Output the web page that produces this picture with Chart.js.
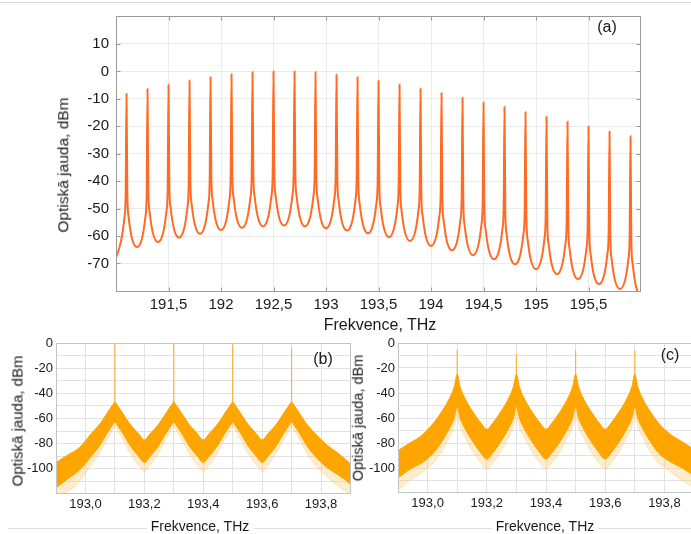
<!DOCTYPE html>
<html>
<head>
<meta charset="utf-8">
<title>Optiskā jauda</title>
<script src="https://cdn.jsdelivr.net/npm/chart.js@4.4.1/dist/chart.umd.min.js"></script>
<style>
    html, body { margin: 0; padding: 0; background: #fff; }
    body { position: relative; width: 691px; height: 534px; overflow: hidden;
           font-family: "Liberation Sans", Arial, sans-serif; color: #1a1a1a; }
    canvas, .txt, .rule { position: absolute; }
    .txt { white-space: nowrap; transform: translate(-50%, -50%); line-height: 1; font-weight: normal; }
    .rot { transform: translate(-50%, -50%) rotate(-90deg); }
    .rule { height: 0; border-top: 1px solid #dcdcdc; }
    .bg { background: #fff; padding: 0 4px; }
</style>
</head>
<body>
<div class="rule" style="left:0; top:2px; width:691px;"></div>
<div class="rule" style="left:8px; top:528px; width:683px;"></div>

<canvas id="chartA" width="691" height="340" style="left:0; top:0;"></canvas>
<canvas id="chartB" width="360" height="204" style="left:0; top:330px;"></canvas>
<canvas id="chartC" width="360" height="204" style="left:340px; top:330px;"></canvas>

<div class="txt rot" style="left:63px; top:165px; font-size:15.5px;">Optiskā jauda, dBm</div>
<div class="txt" style="left:380px; top:325px; font-size:16px;">Frekvence, THz</div>
<div class="txt" style="left:607px; top:27px; font-size:16px;">(a)</div>

<div class="txt rot" style="left:17px; top:421px; font-size:15px;">Optiskā jauda, dBm</div>
<div class="txt bg" style="left:200px; top:526px; font-size:14px;">Frekvence, THz</div>
<div class="txt" style="left:323px; top:359px; font-size:16px;">(b)</div>

<div class="txt rot" style="left:358px; top:418px; font-size:14.5px;">Optiskā jauda, dBm</div>
<div class="txt bg" style="left:545px; top:526px; font-size:14px;">Frekvence, THz</div>
<div class="txt" style="left:670px; top:355px; font-size:16px;">(c)</div>

<script>
var FONT = '"Liberation Sans", Arial, sans-serif';

// (a) comb spectrum, 191-196 THz
var peakFreqA = [191.1, 191.3, 191.5, 191.7, 191.9, 192.1, 192.3, 192.5, 192.7, 192.9, 193.1, 193.3, 193.5,
                 193.7, 193.9, 194.1, 194.3, 194.5, 194.7, 194.9, 195.1, 195.3, 195.5, 195.7, 195.9];
var peakDbA = [-8.2, -6.4, -4.9, -3.3, -2.1, -1.0, -0.3, 0, 0, -0.3, -1.2, -2.1, -3.4,
               -4.8, -6.3, -7.9, -9.6, -11.3, -13.0, -14.9, -16.5, -18.3, -20.1, -21.9, -23.6];
var troughFreqA = [191.0, 191.2, 191.4, 191.6, 191.8, 192.0, 192.2, 192.4, 192.6, 192.8, 193.0, 193.2, 193.4,
                   193.6, 193.8, 194.0, 194.2, 194.4, 194.6, 194.8, 195.0, 195.2, 195.4, 195.6, 195.8, 196.0];
var troughDbA = [-68, -64, -62.2, -60.6, -59.2, -57.8, -57, -56.5, -56.2, -56.5, -57.2, -58, -59,
                 -60.4, -61.8, -63.6, -65.2, -67, -68.5, -70.3, -72.1, -73.9, -75.7, -77.5, -79.3, -83];
// skirt of every peak, read at these offsets (THz) from the peak
var skirtOffsetA = [-0.05, -0.02, -0.008, 0.008, 0.02, 0.05];
var skirtDbA = [
    [-61.5, -53.5, -45, -45, -53, -60.5],
    [-60.5, -53, -45, -43.2, -51.2, -58.7],
    [-58.7, -51.2, -43.2, -41.6, -49.6, -57.1],
    [-57.1, -49.6, -41.6, -40.2, -48.2, -55.7],
    [-55.7, -48.2, -40.2, -38.8, -46.8, -54.3],
    [-54.3, -46.8, -38.8, -38, -46, -53.5],
    [-53.5, -46, -38, -37.5, -45.5, -53],
    [-53, -45.5, -37.5, -37.2, -45.2, -52.7],
    [-52.7, -45.2, -37.2, -37.5, -45.5, -53],
    [-53, -45.5, -37.5, -38.2, -46.2, -53.7],
    [-53.7, -46.2, -38.2, -39, -47, -54.5],
    [-54.5, -47, -39, -40, -48, -55.5],
    [-55.5, -48, -40, -41.4, -49.4, -56.9],
    [-56.9, -49.4, -41.4, -42.8, -50.8, -58.3],
    [-58.3, -50.8, -42.8, -44.6, -52.6, -60.1],
    [-60.1, -52.6, -44.6, -46.2, -54.2, -61.7],
    [-61.7, -54.2, -46.2, -48, -56, -63.5],
    [-63.5, -56, -48, -49.5, -57.5, -65],
    [-65, -57.5, -49.5, -51.3, -59.3, -66.8],
    [-66.8, -59.3, -51.3, -53.1, -61.1, -68.6],
    [-68.6, -61.1, -53.1, -54.9, -62.9, -70.4],
    [-70.4, -62.9, -54.9, -56.7, -64.7, -72.2],
    [-72.2, -64.7, -56.7, -58.5, -66.5, -74],
    [-74, -66.5, -58.5, -60.3, -68.3, -75.8],
    [-75.8, -68.3, -60.3, -62, -70, -78]
];
var xTicksA = [191.5, 192, 192.5, 193, 193.5, 194, 194.5, 195, 195.5];
var xTickLabelsA = ['191,5', '192', '192,5', '193', '193,5', '194', '194,5', '195', '195,5'];
var yTicksA = [-70, -60, -50, -40, -30, -20, -10, 0, 10];
var yTickLabelsA = ['-70', '-60', '-50', '-40', '-30', '-20', '-10', '0', '10'];

// (b) and (c) measured spectra, 192.9-193.9 THz (noise band: upper / lower edge)
var freqBC = [192.90, 192.94, 192.98, 193.02, 193.05, 193.07, 193.09, 193.10, 193.11, 193.13, 193.15, 193.18,
              193.20, 193.22, 193.25, 193.27, 193.29, 193.30, 193.31, 193.33, 193.35, 193.38, 193.40, 193.42,
              193.45, 193.47, 193.49, 193.50, 193.51, 193.53, 193.55, 193.58, 193.60, 193.62, 193.65, 193.67,
              193.69, 193.70, 193.71, 193.73, 193.75, 193.78, 193.82, 193.86, 193.90];
var upperB = [-95, -89, -83, -72, -64, -57, -50, -47, -50, -57, -64, -72,
              -77, -72, -64, -57, -50, -47, -50, -57, -64, -72, -77, -72,
              -64, -57, -50, -47, -50, -57, -64, -72, -77, -72, -64, -57,
              -50, -47, -50, -57, -64, -72, -81, -88, -96];
var lowerB = [-115, -108, -101, -90, -81, -73, -66, -63, -66, -73, -81, -90,
              -95, -90, -81, -73, -66, -63, -66, -73, -81, -90, -95, -90,
              -81, -73, -66, -63, -66, -73, -81, -90, -95, -90, -81, -73,
              -66, -63, -66, -73, -81, -90, -99, -105, -112];
var fringeB = [-120, -118, -110, -97, -87, -78, -70, -67, -70, -78, -87, -97,
               -102, -97, -87, -78, -70, -67, -70, -78, -87, -97, -102, -97,
               -87, -78, -70, -67, -70, -78, -87, -97, -102, -97, -87, -78,
               -70, -67, -70, -78, -87, -97, -106, -114, -120];
var upperC = [-86, -80, -74, -64, -54, -46, -35, -25, -35, -46, -54, -64,
              -69, -64, -54, -46, -35, -25, -35, -46, -54, -64, -69, -64,
              -54, -46, -35, -25, -35, -46, -54, -64, -69, -64, -54, -46,
              -35, -25, -35, -46, -54, -64, -73, -79, -85];
var lowerC = [-108, -101, -96, -88, -78, -70, -60, -51, -60, -70, -78, -88,
              -93, -88, -78, -70, -60, -51, -60, -70, -78, -88, -93, -88,
              -78, -70, -60, -51, -60, -70, -78, -88, -93, -88, -78, -70,
              -60, -51, -60, -70, -78, -88, -95, -100, -106];
var fringeC = [-118, -110, -104, -96, -86, -77, -67, -58, -67, -77, -86, -96,
               -101, -96, -86, -77, -67, -58, -67, -77, -86, -96, -101, -96,
               -86, -77, -67, -58, -67, -77, -86, -96, -101, -96, -86, -77,
               -67, -58, -67, -77, -86, -96, -103, -110, -116];
var spikeFreqBC = [193.1, 193.3, 193.5, 193.7];
var spikeBaseB = [-48, -48, -48, -48];
var spikeTopB = [0, -1, -1, -3.5];
var spikeBaseC = [-26, -26, -26, -26];
var spikeTopC = [-5.5, -9, -6, -6];
var xTicksBC = [193.0, 193.1, 193.2, 193.3, 193.4, 193.5, 193.6, 193.7, 193.8];
var xTickLabelsBC = ['193,0', '', '193,2', '', '193,4', '', '193,6', '', '193,8'];
var yTicksBC = [-110, -100, -90, -80, -70, -60, -50, -40, -30, -20, -10, 0];
var yTickLabelsBC = ['', '-100', '', '-80', '', '-60', '', '-40', '', '-20', '', '0'];

var lineColorA = '#ff6b24';
var bandColor = '#ffa500';

// box around the plot area, with small inward ticks (matlab style)
var frameBox = {
    id: 'frameBox',
    afterDraw: function (chart, args, opts) {
        var ctx = chart.ctx;
        var a = chart.chartArea;
        var l = Math.round(a.left) + 0.5, t = Math.round(a.top) + 0.5;
        var r = Math.round(a.right) - 0.5, b = Math.round(a.bottom) - 0.5;
        ctx.save();
        ctx.strokeStyle = opts.color;
        ctx.lineWidth = 1;
        ctx.strokeRect(l, t, r - l, b - t);
        if (opts.tickLen) {
            var len = opts.tickLen;
            ctx.beginPath();
            chart.scales.x.ticks.forEach(function (tk) {
                var px = Math.round(chart.scales.x.getPixelForValue(tk.value)) + 0.5;
                ctx.moveTo(px, t); ctx.lineTo(px, t + len);
                ctx.moveTo(px, b); ctx.lineTo(px, b - len);
            });
            chart.scales.y.ticks.forEach(function (tk) {
                var py = Math.round(chart.scales.y.getPixelForValue(tk.value)) + 0.5;
                ctx.moveTo(l, py); ctx.lineTo(l + len, py);
                ctx.moveTo(r, py); ctx.lineTo(r - len, py);
            });
            ctx.stroke();
        }
        ctx.restore();
    }
};

function fixedTicks(list) {
    return function (scale) {
        scale.ticks = list.map(function (v) { return { value: v }; });
    };
}

function toPoints(xs, ys) {
    var pts = [];
    for (var i = 0; i < xs.length; i++) {
        pts.push({ x: xs[i], y: ys[i] });
    }
    return pts;
}

// troughs + peaks + skirts -> one sorted line
function buildSpectrumA() {
    var pts = toPoints(troughFreqA, troughDbA);
    for (var i = 0; i < peakFreqA.length; i++) {
        pts.push({ x: peakFreqA[i], y: peakDbA[i] });
        for (var k = 0; k < skirtOffsetA.length; k++) {
            pts.push({ x: +(peakFreqA[i] + skirtOffsetA[k]).toFixed(3), y: skirtDbA[i][k] });
        }
    }
    pts.sort(function (p, q) { return p.x - q.x; });
    return pts;
}

// vertical hairlines on the carriers, broken by null
function spikePoints(base, top) {
    var pts = [];
    for (var i = 0; i < spikeFreqBC.length; i++) {
        pts.push({ x: spikeFreqBC[i], y: base[i] });
        pts.push({ x: spikeFreqBC[i], y: top[i] });
        pts.push({ x: spikeFreqBC[i], y: null });
    }
    return pts;
}

new Chart(document.getElementById('chartA'), {
    type: 'line',
    data: {
        datasets: [{
            data: buildSpectrumA(),
            borderColor: lineColorA,
            borderWidth: 2,
            pointRadius: 0,
            fill: false,
            cubicInterpolationMode: 'monotone'
        }]
    },
    options: {
        responsive: false,
        animation: false,
        layout: { padding: { left: 0, top: 12, right: 50, bottom: 0 } },
        plugins: {
            legend: { display: false },
            tooltip: { enabled: false },
            frameBox: { color: '#9a9a9a', tickLen: 4 }
        },
        scales: {
            x: {
                type: 'linear', min: 191, max: 196,
                afterBuildTicks: fixedTicks(xTicksA),
                afterFit: function (s) { s.height = 48; },
                grid: { color: '#ebebeb', drawTicks: false },
                border: { display: false },
                ticks: {
                    autoSkip: false, maxRotation: 0, padding: 4, color: '#1a1a1a',
                    font: { family: FONT, size: 15 },
                    callback: function (v, i) { return xTickLabelsA[i]; }
                }
            },
            y: {
                min: -80.4, max: 20.2,
                afterBuildTicks: fixedTicks(yTicksA),
                afterFit: function (s) { s.width = 116; },
                grid: { color: '#ebebeb', drawTicks: false },
                border: { display: false },
                ticks: {
                    autoSkip: false, padding: 7, color: '#1a1a1a',
                    font: { family: FONT, size: 15 },
                    callback: function (v, i) { return yTickLabelsA[i]; }
                }
            }
        }
    },
    plugins: [frameBox]
});

function makeBandChart(id, upper, lower, fringe, spikeBase, spikeTop, yWidth, padRight, xHeight) {
    return new Chart(document.getElementById(id), {
        type: 'line',
        data: {
            datasets: [{
                data: toPoints(freqBC, upper),
                borderColor: bandColor, borderWidth: 1, pointRadius: 0, fill: false,
                cubicInterpolationMode: 'monotone'
            }, {
                data: toPoints(freqBC, lower),
                borderColor: bandColor, borderWidth: 1, pointRadius: 0,
                backgroundColor: bandColor, fill: '-1',
                cubicInterpolationMode: 'monotone'
            }, {
                data: toPoints(freqBC, fringe),
                borderColor: 'rgba(255,195,100,0.35)', borderWidth: 1, pointRadius: 0,
                backgroundColor: 'rgba(255,195,100,0.32)', fill: '-1',
                cubicInterpolationMode: 'monotone'
            }, {
                data: spikePoints(spikeBase, spikeTop),
                borderColor: '#ffb13b', borderWidth: 1.2, pointRadius: 0, fill: false,
                tension: 0, spanGaps: false
            }]
        },
        options: {
            responsive: false,
            animation: false,
            layout: { padding: { left: 0, top: 13, right: padRight, bottom: 0 } },
            plugins: {
                legend: { display: false },
                tooltip: { enabled: false },
                frameBox: { color: '#c4c4c4', tickLen: 0 }
            },
            scales: {
                x: {
                    type: 'linear', min: 192.9, max: 193.9,
                    afterBuildTicks: fixedTicks(xTicksBC),
                    afterFit: function (s) { s.height = xHeight; },
                    grid: { color: '#e2e2e2', drawTicks: false },
                    border: { display: false },
                    ticks: {
                        autoSkip: false, maxRotation: 0, padding: 3, color: '#1a1a1a',
                        font: { family: FONT, size: 13 },
                        callback: function (v, i) { return xTickLabelsBC[i]; }
                    }
                },
                y: {
                    min: -120, max: 0,
                    afterBuildTicks: fixedTicks(yTicksBC),
                    afterFit: function (s) { s.width = yWidth; },
                    grid: { color: '#e2e2e2', drawTicks: false },
                    border: { display: false },
                    ticks: {
                        autoSkip: false, padding: 3, color: '#1a1a1a',
                        font: { family: FONT, size: 13 },
                        callback: function (v, i) { return yTickLabelsBC[i]; }
                    }
                }
            }
        },
        plugins: [frameBox]
    });
}

makeBandChart('chartB', upperB, lowerB, fringeB, spikeBaseB, spikeTopB, 56, 9.5, 40);
makeBandChart('chartC', upperC, lowerC, fringeC, spikeBaseC, spikeTopC, 58, 6, 41);
</script>
</body>
</html>
